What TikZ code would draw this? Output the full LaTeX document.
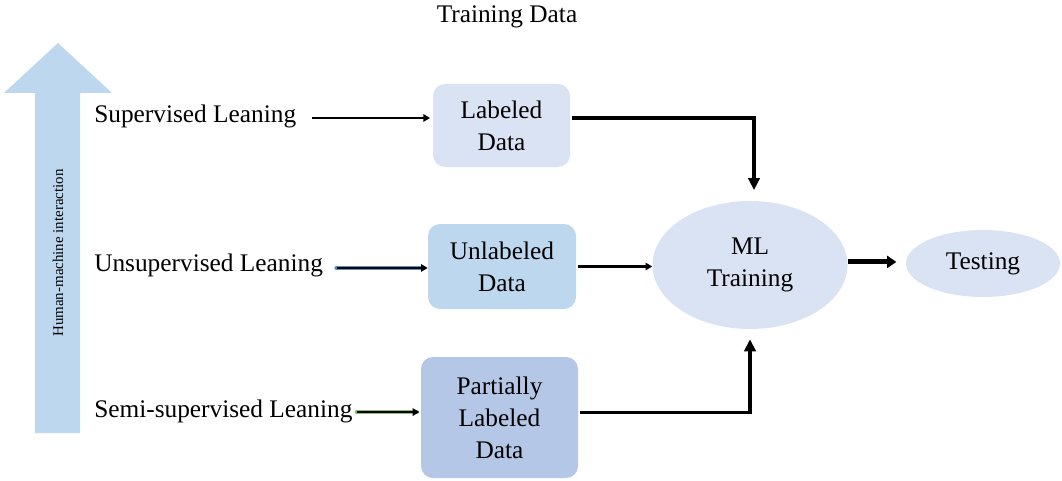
\documentclass[tikz,border=0pt]{standalone}
\usepackage{fontspec}
\setmainfont{Liberation Serif}
\usetikzlibrary{arrows.meta,shapes.geometric}

\definecolor{paleblue}{RGB}{218,227,243}
\definecolor{midblue}{RGB}{189,215,238}
\definecolor{deepblue}{RGB}{180,199,231}
\definecolor{glowblue}{RGB}{46,117,182}
\definecolor{glowgreen}{RGB}{112,173,71}

\tikzset{
  txt/.style={font=\fontsize{19}{24}\selectfont, inner sep=0pt},
  lbl/.style={txt, anchor=west},
  databox/.style={txt, rounded corners=9pt, align=center},
  oval/.style={txt, ellipse, fill=paleblue, align=center, inner sep=0pt},
  feed/.style={line width=1.8pt, -{Triangle[length=5pt,width=5.5pt]}},
  glow/.style={line width=3.2pt, draw=#1, opacity=0.8},
  elbow/.style={line width=2.4pt, -{Triangle[length=9pt,width=8.5pt]}},
  bold/.style={line width=3.8pt, -{Triangle[length=7pt,width=9pt]}}
}

\begin{document}
\begin{tikzpicture}[x=0.75pt,y=-0.75pt]
  \useasboundingbox (0,0) rectangle (1062,481);

  % title
  \node[txt] (title) at (507,17) {Training Data};

  % upward arrow on the left
  \fill[midblue] (35,433) -- (35,93) -- (4,93) -- (58,43) -- (112,93) -- (80,93) -- (80,433) -- cycle;
  \node[font=\fontsize{11.2}{12}\selectfont, rotate=90, inner sep=0pt] (hmi) at (58,253) {Human-machine interaction};

  % learning types
  \node[lbl] (sup)   at (94,116) {Supervised Leaning};
  \node[lbl] (unsup) at (94,265) {Unsupervised Leaning};
  \node[lbl] (semi)  at (94,411) {Semi-supervised Leaning};

  % data boxes
  \node[databox, fill=paleblue, minimum width=102.75pt, minimum height=62.25pt] (lab) at (501.5,125.5) {Labeled\\Data};
  \node[databox, fill=midblue, minimum width=111pt, minimum height=63.75pt] (unlab) at (502,266.5) {Unlabeled\\Data};
  \node[databox, fill=deepblue, minimum width=117.75pt, minimum height=90.75pt] (part) at (499.5,417.5) {Partially\\Labeled\\Data};

  % training and testing
  \node[oval, minimum width=146.25pt, minimum height=96pt] (ml) at (750,265) {ML\\Training};
  \node[oval, minimum width=115.5pt, minimum height=50.25pt] (test) at (983,263.5) {Testing};

  % feeds from learning types to data
  \draw[feed, shorten <=12pt, shorten >=2pt] ([yshift=-1.5pt]sup.east) -- ([yshift=-1.5pt]sup.east -| lab.west);
  \draw[glow=glowblue, line cap=round, shorten <=10pt, shorten >=3pt] ([yshift=-2.2pt]unsup.east) -- ([yshift=-2.2pt]unsup.east -| unlab.west);
  \draw[feed, shorten <=10pt] ([yshift=-2.2pt]unsup.east) -- ([yshift=-2.2pt]unsup.east -| unlab.west);
  \draw[glow=glowgreen, line cap=round, shorten <=3pt, shorten >=3pt] ([yshift=-0.8pt]semi.east) -- ([yshift=-0.8pt]semi.east -| part.west);
  \draw[feed, shorten <=3pt, shorten >=1pt] ([yshift=-0.8pt]semi.east) -- ([yshift=-0.8pt]semi.east -| part.west);

  % data into training
  \coordinate (labout) at ([xshift=1.5pt,yshift=5.6pt]lab.east);
  \coordinate (partout) at ([xshift=1.5pt,yshift=4pt]part.east);
  \draw[elbow] (labout) -| ([xshift=3pt,yshift=8pt]ml.north);
  \draw[feed, shorten <=1.5pt] (unlab.east) -- (unlab.east -| ml.west);
  \draw[elbow] (partout) -| ([yshift=-7.5pt]ml.south);

  % training to testing
  \draw[bold, shorten >=7pt] ([yshift=2.3pt]ml.east) -- ([yshift=2.3pt]ml.east -| test.west);
\end{tikzpicture}
\end{document}
